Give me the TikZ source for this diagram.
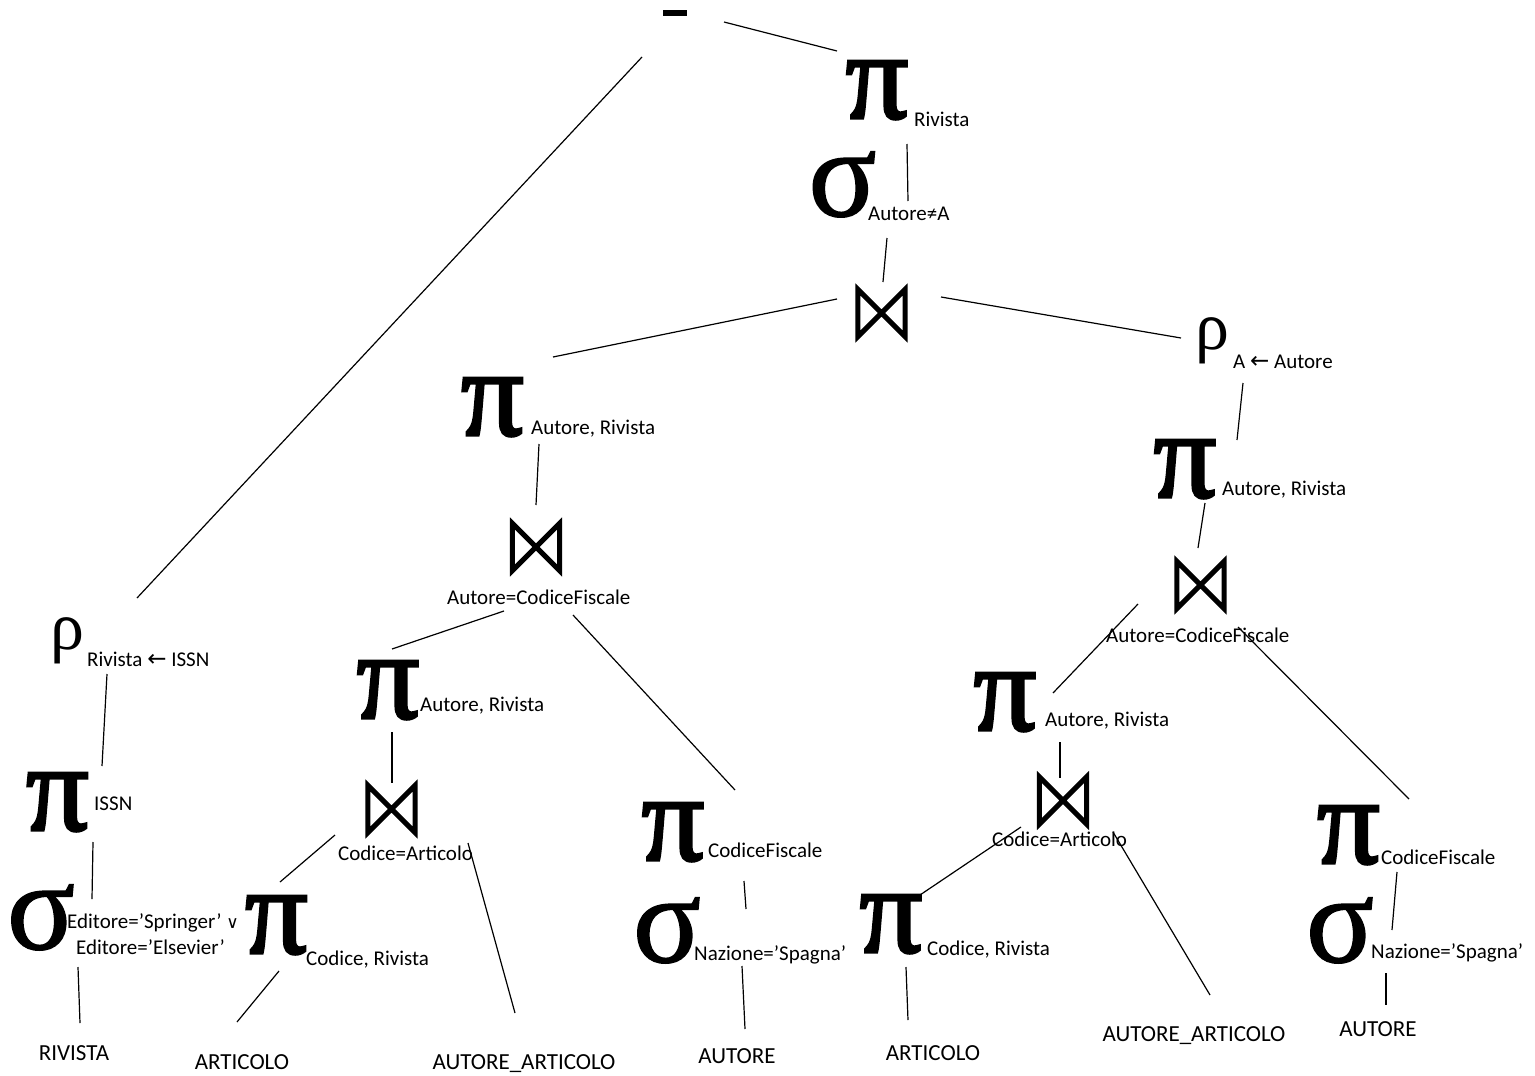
\documentclass[tikz,border=0pt]{standalone}
\usepackage{fontspec}
\setmainfont{Carlito}
\newfontfamily\grk{Liberation Serif}
\newfontfamily\grkfb{Liberation Serif}[FakeBold=2.5]
\newfontfamily\grksb{Liberation Serif}[FakeBold=1.2]
\newfontfamily\symf{DejaVu Sans}
\begin{document}
\begin{tikzpicture}[x=1pt,y=-1pt,
  pisym/.style={font=\grkfb\fontsize{124}{124}\selectfont,inner sep=0pt,anchor=base},
  sigsym/.style={font=\grksb\fontsize{126}{126}\selectfont,inner sep=0pt,anchor=base},
  rhosym/.style={font=\grk\fontsize{68}{68}\selectfont,inner sep=0pt,anchor=base},
  sub/.style={font=\fontsize{21}{24}\selectfont,inner sep=0pt,anchor=base west},
  subc/.style={font=\fontsize{21}{24}\selectfont,inner sep=0pt,anchor=base},
  leaf/.style={font=\fontsize{23}{26}\selectfont,inner sep=0pt,anchor=base},
  joinbox/.style={inner sep=0pt,minimum width=47pt,minimum height=47pt},
  bowline/.style={line width=5pt,line join=miter},
  conn/.style={line width=1.2pt}]
\useasboundingbox (0,0) rectangle (1535,1076);
\newcommand{\drawbow}[1]{\draw[bowline] (#1.north west) -- (#1.south east) -- (#1.north east) -- (#1.south west) -- cycle;}
\newcommand{\arr}{{\symf\fontsize{23}{24}\selectfont ←}}

% difference
\node[fill=black,inner sep=0pt,minimum width=24pt,minimum height=6pt] (minus) at (675,13) {};

% top right branch
\node[pisym] (pi1) at (877,118) {π};
\node[sub] (pi1s) at (914,126) {Rivista};
\node[sigsym] (sig1) at (842.5,216) {σ};
\node[sub] (sig1s) at (868,220) {Autore≠A};
\node[joinbox] (j1) at (881.5,313) {};
\drawbow{j1}
\node[pisym] (pi2) at (492.5,435) {π};
\node[sub] (pi2s) at (531,434) {Autore, Rivista};
\node[rhosym] (rho2) at (1212,349) {ρ};
\node[sub] (rho2s) at (1233,368) {A \arr{} Autore};
\node[joinbox] (j2) at (536,547) {};
\drawbow{j2}
\node[sub] (j2s) at (447,604) {Autore=CodiceFiscale};
\node[pisym] (pi3) at (388,718) {π};
\node[sub] (pi3s) at (420,711) {Autore, Rivista};
\node[pisym] (pi4) at (1185,497) {π};
\node[sub] (pi4s) at (1222,495) {Autore, Rivista};
\node[joinbox] (j4) at (1200.5,585) {};
\drawbow{j4}
\node[sub] (j4s) at (1106,642) {Autore=CodiceFiscale};

% left branch
\node[rhosym] (rho3) at (67.5,649) {ρ};
\node[sub] (rho3s) at (87,666) {Rivista \arr{} ISSN};
\node[pisym] (pi5) at (57.5,830) {π};
\node[sub] (pi5s) at (94,810) {ISSN};
\node[sigsym] (sig5) at (41,949) {σ};
\node[subc] (sig5a) at (153,928) {Editore=’Springer’ {\symf\fontsize{17}{20}\selectfont ∨}};
\node[subc] (sig5b) at (150.5,954) {Editore=’Elsevier’};

% middle
\node[joinbox] (j3) at (391.5,809) {};
\drawbow{j3}
\node[sub] (j3s) at (338,860) {Codice=Articolo};
\node[pisym] (pi6) at (276.5,953) {π};
\node[sub] (pi6s) at (306,965) {Codice, Rivista};
\node[pisym] (pi7) at (673,860) {π};
\node[sub] (pi7s) at (708,857) {CodiceFiscale};
\node[sigsym] (sig7) at (667,962) {σ};
\node[sub] (sig7s) at (694,960) {Nazione=’Spagna’};

% right lower
\node[pisym] (pi8) at (1005,730) {π};
\node[sub] (pi8s) at (1045,726) {Autore, Rivista};
\node[joinbox] (j5) at (1063,800.5) {};
\drawbow{j5}
\node[sub] (j5s) at (992,846) {Codice=Articolo};
\node[pisym] (pi9) at (891,952) {π};
\node[sub] (pi9s) at (927,955) {Codice, Rivista};
\node[pisym] (pi10) at (1348.5,863) {π};
\node[sub] (pi10s) at (1381,864) {CodiceFiscale};
\node[sigsym] (sig10) at (1340,962) {σ};
\node[sub] (sig10s) at (1371,958) {Nazione=’Spagna’};

% leaves
\node[leaf] (riv) at (74,1060) {RIVISTA};
\node[leaf] (art1) at (242,1069) {ARTICOLO};
\node[leaf] (aa1) at (524,1069) {AUTORE\_ARTICOLO};
\node[leaf] (aut1) at (737,1063) {AUTORE};
\node[leaf] (art2) at (933,1060) {ARTICOLO};
\node[leaf] (aa2) at (1194,1041) {AUTORE\_ARTICOLO};
\node[leaf] (aut2) at (1378,1036) {AUTORE};

% connectors
\draw[conn] ([shift={(49,9)}]minus.center) -- ([shift={(-40,-67)}]pi1.base);
\draw[conn] ([shift={(-33,44)}]minus.center) -- ([shift={(69.5,-51)}]rho3.base);
\draw[conn] ([shift={(30,26)}]pi1.base) -- ([shift={(65.5,-15)}]sig1.base);
\draw[conn] ([shift={(44.5,22)}]sig1.base) -- ([shift={(1.5,-31)}]j1.center);
\draw[conn] ([shift={(-44.5,-14)}]j1.center) -- ([shift={(60.5,-78)}]pi2.base);
\draw[conn] ([shift={(59.5,-16)}]j1.center) -- ([shift={(-31,-11)}]rho2.base);
\draw[conn] ([shift={(46.5,9)}]pi2.base) -- ([shift={(0,-42)}]j2.center);
\draw[conn] ([shift={(-32,64)}]j2.center) -- ([shift={(4,-69)}]pi3.base);
\draw[conn] ([shift={(37,68)}]j2.center) -- ([shift={(62,-70)}]pi7.base);
\draw[conn] ([shift={(4,14)}]pi3.base) -- ([shift={(0.5,-26)}]j3.center);
\draw[conn] ([shift={(-56.5,26)}]j3.center) -- ([shift={(3.5,-71)}]pi6.base);
\draw[conn] ([shift={(76.5,34)}]j3.center) -- ([shift={(-9,-56)}]aa1.base);
\draw[conn] ([shift={(37,18)}]sig5.base) -- ([shift={(6,-37)}]riv.base);
\draw[conn] ([shift={(35.5,12)}]pi5.base) -- ([shift={(51,-50)}]sig5.base);
\draw[conn] ([shift={(39.5,25)}]rho3.base) -- ([shift={(44.5,-64)}]pi5.base);
\draw[conn] ([shift={(2.5,18)}]pi6.base) -- ([shift={(-5,-47)}]art1.base);
\draw[conn] ([shift={(71,21)}]pi7.base) -- ([shift={(79,-53)}]sig7.base);
\draw[conn] ([shift={(75,4)}]sig7.base) -- ([shift={(8,-34)}]aut1.base);
\draw[conn] ([shift={(31,34)}]rho2.base) -- ([shift={(52,-57)}]pi4.base);
\draw[conn] ([shift={(20,6)}]pi4.base) -- ([shift={(-2.5,-37)}]j4.center);
\draw[conn] ([shift={(-62.5,19)}]j4.center) -- ([shift={(48,-37)}]pi8.base);
\draw[conn] ([shift={(37.5,42)}]j4.center) -- ([shift={(60.5,-64)}]pi10.base);
\draw[conn] ([shift={(55,12)}]pi8.base) -- ([shift={(-3,-22.5)}]j5.center);
\draw[conn] ([shift={(-42,26.5)}]j5.center) -- ([shift={(26,-55)}]pi9.base);
\draw[conn] ([shift={(50,31.5)}]j5.center) -- ([shift={(16,-46)}]aa2.base);
\draw[conn] ([shift={(15,15)}]pi9.base) -- ([shift={(-25,-40)}]art2.base);
\draw[conn] ([shift={(48.5,9)}]pi10.base) -- ([shift={(52,-32)}]sig10.base);
\draw[conn] ([shift={(46,11)}]sig10.base) -- ([shift={(8,-31)}]aut2.base);
\end{tikzpicture}
\end{document}
